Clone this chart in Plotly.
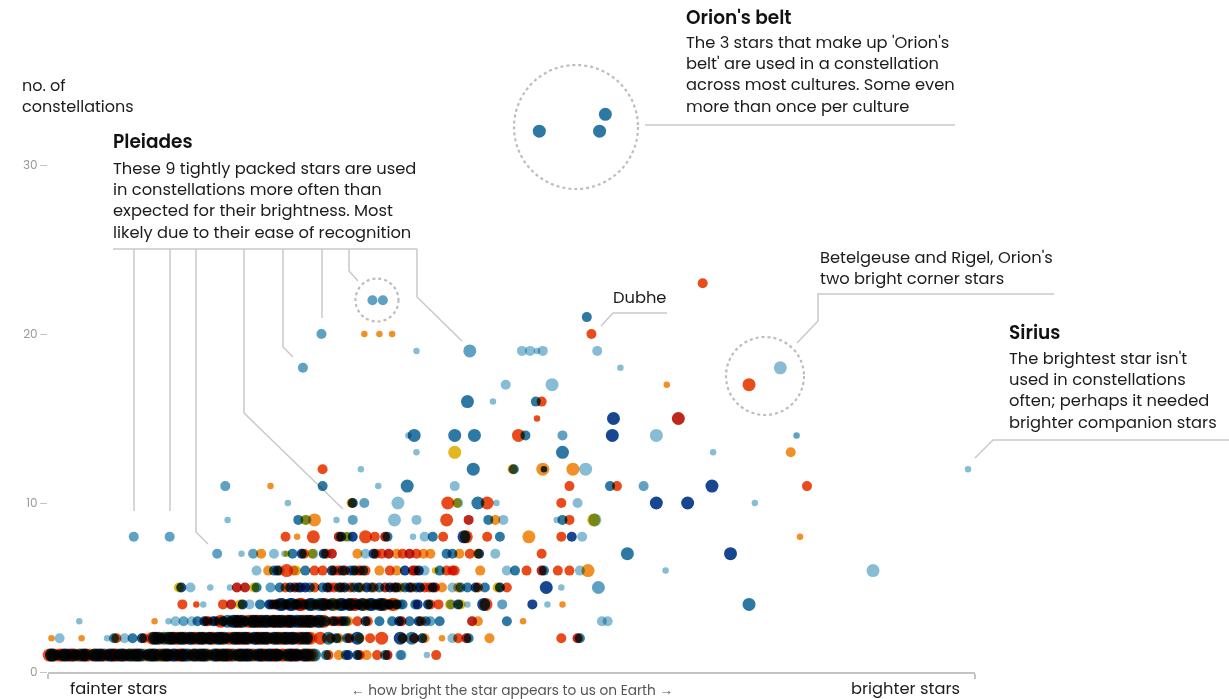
import plotly.graph_objects as go

# ---------------------------------------------------------------------------
# Stars: (apparent magnitude, colour class, size class), grouped by the
# number of constellations each star is used in.
# ---------------------------------------------------------------------------
ROW_01 = [(6.49, 'r', 3), (6.46, 'b', 3), (6.42, 'nv', 2), (6.38, 'o', 3), (6.34, 'b', 3), (6.29, 'r', 3),
          (6.26, 'nv', 2), (6.21, 'mb', 3), (6.17, 'dr', 3), (6.12, 'b', 2), (6.08, 'r', 3), (6.04, 'nv', 3),
          (5.99, 'o', 2), (5.95, 'b', 3), (5.91, 'r', 3), (5.86, 'nv', 3), (5.82, 'b', 2), (5.78, 'o', 3),
          (5.74, 'r', 3), (5.70, 'b', 3), (5.65, 'nv', 2), (5.61, 'r', 3), (5.57, 'b', 3), (5.52, 'o', 3),
          (5.48, 'nv', 3), (5.44, 'r', 2), (5.40, 'b', 3), (5.35, 'dr', 3), (5.31, 'mb', 3), (5.27, 'o', 2),
          (5.23, 'nv', 3), (5.18, 'r', 3), (5.14, 'b', 3), (5.10, 'r', 2), (5.05, 'nv', 3), (5.01, 'o', 3),
          (4.97, 'b', 3), (4.93, 'r', 3), (4.88, 'mb', 2), (4.84, 'nv', 3), (4.80, 'r', 3), (4.76, 'b', 3),
          (4.71, 'o', 2), (4.67, 'nv', 3), (4.63, 'r', 3), (4.58, 'b', 3), (4.54, 'dr', 3), (4.50, 'b', 2),
          (4.46, 'o', 3), (4.41, 'nv', 3), (4.37, 'r', 3), (4.33, 'b', 2), (4.28, 'nv', 3), (4.24, 'r', 3),
          (4.20, 'b', 3),
          (6.47, 'nv', 3), (6.44, 'o', 3), (6.40, 'r', 3), (6.36, 'nv', 3), (6.31, 'dr', 3), (6.27, 'b', 3),
          (6.23, 'r', 3), (6.19, 'nv', 3), (6.14, 'o', 3), (6.10, 'nv', 3), (6.06, 'b', 3), (6.01, 'r', 3),
          (5.97, 'nv', 3), (5.93, 'dr', 3), (5.88, 'b', 3), (5.84, 'r', 3), (5.80, 'nv', 3), (5.76, 'b', 3),
          (5.72, 'nv', 3), (5.67, 'o', 3), (5.63, 'b', 3), (5.59, 'nv', 3), (5.54, 'r', 3), (5.50, 'b', 3),
          (5.46, 'dr', 3), (5.42, 'nv', 3), (5.37, 'r', 3), (5.33, 'nv', 3), (5.29, 'b', 3), (5.25, 'r', 3),
          (5.20, 'b', 3), (5.16, 'nv', 3), (5.12, 'o', 3), (5.07, 'b', 3), (5.03, 'r', 3), (4.99, 'nv', 3),
          (4.95, 'dr', 3), (4.90, 'b', 3), (4.86, 'r', 3), (4.82, 'b', 3), (4.78, 'nv', 3), (4.73, 'r', 3),
          (4.69, 'b', 3), (4.65, 'dr', 3), (4.60, 'nv', 3), (4.56, 'r', 3), (4.52, 'nv', 3), (4.48, 'r', 3),
          (4.43, 'b', 3), (4.39, 'dr', 3), (4.35, 'nv', 3), (4.30, 'r', 3), (4.26, 'b', 3), (4.22, 'o', 3),
          (4.10, 'b', 2), (4.08, 'r', 2), (3.99, 'o', 2), (3.93, 'b', 2), (3.91, 'nv', 2),
          (3.83, 'nv', 2), (3.81, 'r', 2), (3.75, 'o', 2), (3.66, 'r', 2), (3.59, 'b', 2), (3.57, 'dr', 2),
          (3.46, 'lb', 2), (3.45, 'mb', 2), (3.23, 'lb', 1), (3.15, 'r', 2)]

ROW_02 = [(6.47, 'o', 1), (6.40, 'lb', 2), (6.21, 'o', 1), (5.99, 'lb', 1), (5.93, 'b', 2), (5.91, 'r', 2),
          (5.84, 'lb', 2), (5.77, 'b', 2), (5.69, 'nv', 2), (5.67, 'r', 2),
          (5.60, 'r', 3), (5.56, 'b', 3), (5.52, 'nv', 2), (5.47, 'o', 3), (5.43, 'b', 3), (5.38, 'r', 3),
          (5.34, 'nv', 3), (5.30, 'o', 2), (5.26, 'b', 3), (5.21, 'r', 3), (5.17, 'nv', 3), (5.13, 'mb', 2),
          (5.09, 'dr', 3), (5.04, 'b', 3), (5.00, 'r', 3), (4.96, 'nv', 2), (4.91, 'o', 3), (4.87, 'b', 3),
          (4.83, 'r', 3), (4.79, 'nv', 3), (4.74, 'o', 2), (4.70, 'b', 3), (4.66, 'r', 3), (4.62, 'nv', 3),
          (4.57, 'b', 2), (4.53, 'r', 3), (4.49, 'o', 3), (4.45, 'nv', 3), (4.40, 'dr', 3), (4.36, 'b', 2),
          (4.32, 'r', 3), (4.27, 'nv', 3), (4.23, 'o', 3),
          (5.58, 'nv', 3), (5.54, 'r', 3), (5.50, 'b', 3), (5.45, 'nv', 3), (5.41, 'dr', 3), (5.36, 'b', 3),
          (5.32, 'r', 3), (5.28, 'nv', 3), (5.24, 'r', 3), (5.19, 'b', 3), (5.15, 'r', 3), (5.11, 'nv', 3),
          (5.07, 'o', 3), (5.02, 'nv', 3), (4.98, 'b', 3), (4.94, 'r', 3), (4.89, 'nv', 3), (4.85, 'dr', 3),
          (4.81, 'b', 3), (4.77, 'r', 3), (4.72, 'nv', 3), (4.68, 'dr', 3), (4.64, 'b', 3), (4.60, 'r', 3),
          (4.55, 'nv', 3), (4.51, 'b', 3), (4.47, 'r', 3), (4.43, 'b', 3), (4.38, 'nv', 3), (4.34, 'r', 3),
          (4.30, 'b', 3), (4.25, 'r', 3),
          (4.15, 'r', 3), (4.08, 'b', 3), (4.06, 'r', 2), (4.01, 'nv', 2), (3.99, 'o', 2), (3.92, 'b', 2),
          (3.90, 'dr', 2), (3.83, 'nv', 3), (3.81, 'o', 2), (3.72, 'r', 2), (3.62, 'r', 3), (3.46, 'nv', 3),
          (3.44, 'r', 2), (3.36, 'b', 3), (3.34, 'dr', 2), (3.27, 'nv', 2), (3.25, 'o', 2), (3.10, 'o', 1),
          (3.01, 'lb', 2), (2.96, 'r', 2), (2.89, 'dr', 2), (2.87, 'b', 2), (2.69, 'o', 2), (2.07, 'r', 2),
          (1.93, 'dr', 2), (1.91, 'b', 2)]

ROW_03 = [(6.23, 'lb', 1), (5.58, 'o', 1), (5.46, 'lb', 1), (5.40, 'lb', 2), (5.33, 'mb', 2), (5.26, 'lb', 2),
          (5.21, 'b', 2), (5.15, 'nv', 2), (5.12, 'r', 2), (5.08, 'b', 2), (5.03, 'o', 2), (4.99, 'nv', 2),
          (4.93, 'r', 2), (4.88, 'b', 3), (4.84, 'r', 3), (4.80, 'nv', 2), (4.75, 'o', 3), (4.71, 'b', 3),
          (4.67, 'r', 3), (4.62, 'nv', 3), (4.58, 'mb', 2), (4.54, 'dr', 3), (4.50, 'b', 3), (4.45, 'o', 3),
          (4.41, 'nv', 3), (4.37, 'r', 2), (4.32, 'b', 3), (4.28, 'r', 3), (4.24, 'nv', 3), (4.19, 'o', 2),
          (4.15, 'b', 3), (4.12, 'r', 3),
          (5.13, 'r', 2), (5.06, 'nv', 2), (5.01, 'r', 3), (4.95, 'b', 3), (4.90, 'nv', 3), (4.86, 'dr', 3),
          (4.82, 'b', 3), (4.77, 'r', 3), (4.73, 'nv', 3), (4.69, 'r', 3), (4.65, 'b', 3), (4.60, 'r', 3),
          (4.56, 'nv', 3), (4.52, 'r', 3), (4.48, 'nv', 3), (4.43, 'dr', 3), (4.39, 'b', 3), (4.35, 'nv', 3),
          (4.30, 'r', 3), (4.26, 'b', 3), (4.22, 'r', 3), (4.17, 'nv', 3), (4.10, 'b', 2), (4.05, 'r', 2),
          (3.97, 'dr', 2), (3.95, 'b', 2),
          (4.03, 'nv', 2), (4.00, 'r', 2), (3.93, 'b', 2), (3.91, 'o', 2),
          (3.83, 'r', 2), (3.76, 'nv', 2), (3.74, 'r', 2), (3.64, 'b', 2), (3.53, 'b', 2), (3.47, 'nv', 2),
          (3.45, 'dr', 2), (3.38, 'b', 2), (3.30, 'nv', 2), (3.28, 'r', 2), (3.24, 'b', 2), (3.20, 'mb', 2),
          (3.12, 'b', 2), (2.84, 'dr', 2), (2.79, 'o', 2), (2.54, 'b', 2), (2.40, 'o', 1), (1.72, 'lb', 2),
          (1.67, 'lb', 2)]

ROW_04 = [(5.34, 'r', 2), (5.22, 'r', 1), (5.16, 'lb', 1), (4.99, 'r', 2), (4.92, 'dr', 2), (4.84, 'y', 2),
          (4.82, 'nv', 2), (4.76, 'lb', 2), (4.67, 'b', 2), (4.59, 'nv', 2), (4.55, 'r', 2), (4.50, 'b', 3),
          (4.46, 'o', 2), (4.41, 'nv', 3), (4.37, 'r', 2), (4.33, 'dr', 3), (4.29, 'b', 2), (4.24, 'nv', 3),
          (4.20, 'o', 2), (4.16, 'b', 3), (4.11, 'r', 3), (4.07, 'nv', 2), (4.03, 'o', 3), (3.98, 'b', 3),
          (3.94, 'r', 2), (3.90, 'nv', 3), (3.85, 'dr', 3), (3.81, 'b', 2), (3.77, 'o', 3), (3.72, 'nv', 3),
          (3.68, 'r', 2), (3.64, 'b', 3), (3.60, 'r', 3), (3.55, 'nv', 2), (3.51, 'o', 3),
          (4.57, 'b', 2), (4.53, 'dr', 2), (4.48, 'nv', 3), (4.44, 'r', 2), (4.39, 'b', 3), (4.35, 'nv', 2),
          (4.31, 'r', 3), (4.26, 'o', 2), (4.22, 'b', 3), (4.18, 'r', 2), (4.13, 'nv', 3), (4.09, 'dr', 2),
          (4.05, 'b', 3), (4.01, 'r', 2), (3.96, 'nv', 3), (3.92, 'b', 2), (3.88, 'r', 3), (3.83, 'b', 2),
          (3.79, 'nv', 3), (3.75, 'r', 2), (3.70, 'b', 3), (3.66, 'dr', 2), (3.62, 'nv', 3), (3.57, 'b', 2),
          (3.53, 'r', 3), (3.49, 'nv', 2),
          (3.46, 'lb', 2), (3.44, 'b', 2), (3.33, 'b', 2), (3.31, 'nv', 2), (3.22, 'nv', 2), (3.20, 'r', 2),
          (3.13, 'r', 2), (3.03, 'y', 2), (3.02, 'lb', 2), (2.96, 'nv', 2), (2.94, 'y', 2), (2.88, 'lb', 1),
          (2.74, 'nv', 3), (2.72, 'r', 3), (2.58, 'mb', 2), (2.32, 'nv', 2), (2.19, 'lb', 1), (2.06, 'o', 1),
          (0.45, 'b', 3)]

ROW_05 = [(5.37, 'y', 2), (5.35, 'nv', 2), (5.27, 'lb', 2), (5.10, 'lb', 1), (4.93, 'lb', 1), (4.87, 'dr', 2),
          (4.80, 'dr', 2), (4.72, 'y', 2), (4.70, 'b', 2), (4.58, 'mb', 2), (4.50, 'b', 2), (4.41, 'nv', 2),
          (4.34, 'b', 2), (4.32, 'nv', 2), (4.24, 'b', 2), (4.09, 'nv', 2), (4.07, 'r', 2), (3.99, 'b', 2),
          (3.97, 'dr', 2), (3.89, 'r', 2), (3.82, 'nv', 2), (3.80, 'o', 2), (3.71, 'b', 2), (3.69, 'r', 2),
          (3.59, 'dr', 2), (3.51, 'dr', 2), (3.49, 'nv', 2), (3.46, 'o', 2), (3.38, 'nv', 2), (3.36, 'r', 2),
          (3.32, 'b', 2), (3.25, 'r', 2), (3.18, 'nv', 2), (3.16, 'dr', 2), (3.10, 'o', 2), (3.01, 'lb', 2),
          (2.96, 'o', 2), (2.94, 'b', 2), (2.88, 'b', 2), (2.81, 'nv', 2), (2.79, 'r', 2), (2.73, 'b', 2),
          (2.62, 'y', 2), (2.60, 'nv', 2), (2.54, 'r', 2), (2.20, 'nv', 3), (2.07, 'lb', 1), (1.75, 'mb', 3),
          (4.45, 'r', 2), (4.37, 'dr', 2), (4.28, 'nv', 2), (4.20, 'r', 2), (4.13, 'b', 2), (4.03, 'r', 2),
          (3.94, 'nv', 2), (3.86, 'b', 2), (3.75, 'nv', 2), (3.64, 'b', 2), (3.55, 'nv', 2), (3.42, 'b', 2),
          (3.29, 'nv', 2), (3.21, 'r', 2)]

ROW_06 = [(4.70, 'lb', 2), (4.60, 'o', 2), (4.55, 'b', 2), (4.52, 'nv', 2), (4.50, 'o', 2), (4.44, 'r', 3),
          (4.38, 'o', 2), (4.36, 'y', 2), (4.28, 'b', 2), (4.20, 'r', 2), (4.13, 'r', 2), (4.05, 'nv', 2),
          (4.03, 'r', 2), (3.96, 'b', 2), (3.94, 'dr', 2), (3.86, 'nv', 2), (3.84, 'o', 2), (3.78, 'b', 2),
          (3.76, 'r', 2), (3.64, 'o', 2), (3.55, 'r', 2), (3.49, 'o', 2), (3.42, 'nv', 2), (3.35, 'dr', 2),
          (3.30, 'nv', 2), (3.25, 'lb', 2), (3.16, 'y', 1), (3.12, 'b', 2), (3.06, 'r', 2), (3.01, 'r', 2),
          (2.99, 'r', 2), (2.77, 'o', 2), (2.54, 'lb', 2), (2.47, 'b', 2), (2.37, 'r', 2), (2.24, 'dr', 2),
          (2.22, 'b', 2), (2.10, 'r', 2), (2.00, 'r', 2), (1.91, 'lb', 2), (1.84, 'o', 3), (1.17, 'lb', 1),
          (-0.62, 'lb', 3), (3.99, 'r', 2), (3.89, 'b', 2), (3.81, 'dr', 2), (3.33, 'r', 2)]

ROW_07 = [(5.04, 'mb', 2), (4.83, 'lb', 1), (4.73, 'mb', 2), (4.66, 'o', 2), (4.55, 'lb', 2), (4.46, 'lb', 1),
          (4.44, 'y', 1), (4.39, 'b', 2), (4.31, 'nv', 2), (4.29, 'r', 2), (4.22, 'y', 2), (4.21, 'lb', 2),
          (4.12, 'nv', 2), (4.10, 'r', 2), (4.05, 'dr', 2), (3.83, 'o', 2), (3.76, 'lb', 2), (3.69, 'nv', 2),
          (3.67, 'r', 2), (3.62, 'r', 2), (3.56, 'dr', 2), (3.49, 'o', 2), (3.44, 'r', 2), (3.38, 'dr', 2),
          (3.32, 'r', 2), (3.26, 'o', 2), (3.20, 'o', 2), (3.06, 'b', 2), (3.01, 'b', 2), (2.95, 'o', 2),
          (2.86, 'r', 2), (2.79, 'o', 2), (2.78, 'nv', 2), (2.64, 'lb', 2), (2.24, 'r', 2), (1.50, 'b', 3),
          (0.61, 'nv', 3)]

ROW_08 = [(5.76, 'mb', 2), (5.45, 'mb', 2), (4.45, 'r', 2), (4.35, 'o', 1), (4.21, 'r', 3), (3.99, 'dr', 2),
          (3.97, 'nv', 2), (3.93, 'y', 2), (3.91, 'lb', 2), (3.87, 'nv', 2), (3.76, 'r', 3), (3.68, 'r', 2),
          (3.59, 'dr', 2), (3.57, 'b', 2), (3.35, 'lb', 1), (3.25, 'lb', 2), (3.18, 'b', 2), (3.09, 'r', 2),
          (2.91, 'nv', 3), (2.89, 'r', 3), (2.71, 'r', 2), (2.60, 'b', 2), (2.35, 'o', 3), (2.07, 'r', 2),
          (1.98, 'nv', 2), (1.89, 'lb', 2), (0.01, 'o', 1)]

ROW_09 = [(4.95, 'lb', 1), (4.34, 'b', 2), (4.28, 'y', 2), (4.27, 'lb', 2), (4.20, 'o', 3), (4.01, 'lb', 1),
          (3.87, 'mb', 2), (3.51, 'lb', 3), (3.32, 'lb', 2), (3.06, 'r', 3), (2.87, 'dr', 2), (2.70, 'b', 2),
          (2.64, 'o', 2), (2.57, 'lb', 2), (2.11, 'lb', 1), (2.06, 'b', 2), (2.00, 'r', 2), (1.79, 'y', 3),
          (1.78, 'lb', 3)]

ROW_10 = [(4.43, 'lb', 1), (3.88, 'o', 2), (3.87, 'nv', 2), (3.77, 'mb', 2), (3.48, 'lb', 3), (3.05, 'r', 3),
          (2.97, 'y', 2), (2.96, 'lb', 2), (2.79, 'b', 3), (2.71, 'r', 3), (2.63, 'lb', 1), (2.07, 'r', 2),
          (1.93, 'lb', 2), (1.25, 'nv', 3), (0.98, 'nv', 3), (0.40, 'lb', 1)]

ROW_11 = [(4.97, 'mb', 2), (4.58, 'o', 1), (4.13, 'b', 2), (3.65, 'lb', 1), (3.40, 'b', 3), (2.99, 'lb', 2),
          (2.00, 'r', 2), (1.65, 'b', 2), (1.59, 'r', 2), (1.36, 'mb', 2), (0.77, 'nv', 3), (-0.05, 'r', 2)]

ROW_12 = [(4.13, 'r', 2), (3.80, 'lb', 1), (2.83, 'b', 3), (2.49, 'o', 2), (2.48, 'b', 2), (2.23, 'o', 3),
          (2.22, 'nv', 1), (1.97, 'o', 3), (1.86, 'lb', 3), (-1.44, 'lb', 1)]

ROW_13 = [(3.32, 'lb', 1), (2.99, 'y', 3), (2.06, 'b', 3), (0.76, 'lb', 1), (0.09, 'o', 2)]

ROW_14 = [(3.39, 'lb', 1), (3.34, 'b', 3), (2.99, 'b', 3), (2.82, 'b', 3), (2.44, 'r', 3), (2.38, 'b', 2),
          (2.06, 'mb', 2), (1.63, 'nv', 3), (1.25, 'lb', 3), (0.04, 'mb', 1)]

ROW_15 = [(2.28, 'r', 1), (1.62, 'nv', 3), (1.06, 'dr', 3)]
ROW_16 = [(2.88, 'b', 3), (2.66, 'lb', 1), (2.29, 'b', 2), (2.24, 'r', 2)]
ROW_17 = [(2.55, 'lb', 2), (2.15, 'lb', 3), (1.16, 'o', 1), (0.45, 'r', 3)]
ROW_18 = [(4.30, 'mb', 2), (1.56, 'lb', 1), (0.18, 'lb', 3)]
ROW_19 = [(3.32, 'lb', 1), (2.86, 'mb', 3), (2.41, 'lb', 2), (2.34, 'lb', 2), (2.28, 'lb', 1), (2.23, 'lb', 2),
          (1.76, 'lb', 2)]
ROW_20 = [(4.14, 'mb', 2), (3.77, 'o', 1), (3.64, 'o', 1), (3.53, 'o', 1), (1.81, 'r', 2)]
ROW_21 = [(1.85, 'b', 2)]
ROW_22 = [(3.70, 'mb', 2), (3.61, 'mb', 2)]
ROW_23 = [(0.85, 'r', 2)]
ROW_32 = [(2.26, 'b', 3), (1.74, 'b', 3)]
ROW_33 = [(1.69, 'b', 3)]

ROWS = {1: ROW_01, 2: ROW_02, 3: ROW_03, 4: ROW_04, 5: ROW_05, 6: ROW_06, 7: ROW_07, 8: ROW_08,
        9: ROW_09, 10: ROW_10, 11: ROW_11, 12: ROW_12, 13: ROW_13, 14: ROW_14, 15: ROW_15,
        16: ROW_16, 17: ROW_17, 18: ROW_18, 19: ROW_19, 20: ROW_20, 21: ROW_21, 22: ROW_22,
        23: ROW_23, 32: ROW_32, 33: ROW_33}

Y_TICKS = [0, 10, 20, 30]
X_RANGE = [6.5, -1.5]

PALETTE = {
    'lb': '#80bad3', 'mb': '#559cbf', 'b': '#22729f', 'nv': '#0b3d8c',
    'o': '#f28a1c', 'r': '#e8420f', 'dr': '#bb1b0e', 'y': '#e2b312',
}
DIAMETER = {1: 6.5, 2: 10, 3: 13}

FONT = "Poppins, 'Open Sans', sans-serif"
INK = '#1c1c1c'
RULE = '#c9c9c9'
BODY = 16.3

# ---------------------------------------------------------------------------
W, H = 1229, 699
ML, MR, MT, MB = 48, 254, 80, 27
PW, PH = W - ML - MR, H - MT - MB
PX_PER_COUNT = 16.9
Y_RANGE = [0, PH / PX_PER_COUNT]


def fx(x):
    """page pixel -> paper x"""
    return (x - ML) / PW


def fy(y):
    """page pixel -> paper y"""
    return (H - MB - y) / PH


mags, counts, colors, sizes = [], [], [], []
for count, stars in ROWS.items():
    for mag, col, size in stars:
        mags.append(mag)
        counts.append(count)
        colors.append(PALETTE[col])
        sizes.append(DIAMETER[size])

fig = go.Figure()
fig.add_trace(go.Scatter(
    x=mags, y=counts, mode='markers', cliponaxis=False, hoverinfo='skip',
    marker=dict(color=colors, size=sizes, opacity=0.95, line=dict(width=0)),
))

shapes = []


def polyline(points):
    d = 'M ' + ' L '.join(f'{fx(a):.5f},{fy(b):.5f}' for a, b in points)
    shapes.append(dict(type='path', path=d, xref='paper', yref='paper',
                       line=dict(color=RULE, width=1.5), layer='below'))


def ring(cx, cy, r):
    shapes.append(dict(type='circle', xref='paper', yref='paper',
                       x0=fx(cx - r), x1=fx(cx + r), y0=fy(cy + r), y1=fy(cy - r),
                       line=dict(color='#bdbdbd', width=2.2, dash='dot'), layer='below'))


# dotted rings round the highlighted groups
ring(576, 127, 62)    # Orion's belt
ring(377, 300, 21.5)  # Pleiades pair
ring(765, 376, 39)    # Betelgeuse and Rigel

# Pleiades leader lines
polyline([(113, 249), (417, 249)])
polyline([(134, 249), (134, 511)])
polyline([(170, 249), (170, 511)])
polyline([(196, 249), (196, 532), (208, 544)])
polyline([(244, 249), (244, 413), (343, 509)])
polyline([(283, 249), (283, 347), (293, 357)])
polyline([(322, 249), (322, 318)])
polyline([(349, 249), (349, 271), (358, 281)])
polyline([(417, 249), (417, 297), (462, 341)])
# Orion's belt
polyline([(645, 125), (955, 125)])
# Dubhe
polyline([(601, 326), (613, 313), (667, 313)])
# Betelgeuse and Rigel
polyline([(797, 343), (818, 321), (818, 294), (1054, 294)])
# Sirius
polyline([(975, 458), (993, 440), (1229, 440)])

annotations = []


def text(x, y, lines, size=BODY, color=INK, anchor='left', weight=400):
    if isinstance(lines, str):
        lines = [lines]
    annotations.append(dict(x=fx(x), y=fy(y), xref='paper', yref='paper', text='<br>'.join(lines),
                            showarrow=False, xanchor=anchor, yanchor='middle', align=anchor,
                            borderpad=0, font=dict(family=FONT, size=size, color=color, weight=weight)))


def title(x, y, s):
    text(x, y, s, size=18.5, color='#111', weight=600)


text(21, 96, ['no. of', 'constellations'], size=16)

title(112, 141, 'Pleiades')
text(112, 200, ['These 9 tightly packed stars are used',
                'in constellations more often than',
                'expected for their brightness. Most',
                'likely due to their ease of recognition'])

title(685, 17, "Orion's belt")
text(685, 75, ["The 3 stars that make up 'Orion's",
               "belt' are used in a constellation",
               "across most cultures. Some even",
               "more than once per culture"])

text(612, 297, 'Dubhe')
text(819, 268, ["Betelgeuse and Rigel, Orion's", "two bright corner stars"])

title(1008, 332, 'Sirius')
text(1008, 390, ["The brightest star isn't",
                 "used in constellations",
                 "often; perhaps it needed",
                 "brighter companion stars"])

text(69, 688, 'fainter stars')
text(961, 688, 'brighter stars', anchor='right')
text(512, 690, '← how bright the star appears to us on Earth →', size=13.7, color='#555',
     anchor='center')

fig.update_layout(
    width=W, height=H, autosize=False,
    margin=dict(l=ML, r=MR, t=MT, b=MB, pad=0),
    paper_bgcolor='white', plot_bgcolor='white',
    showlegend=False, shapes=shapes, annotations=annotations,
    font=dict(family=FONT, color=INK),
    xaxis=dict(range=X_RANGE, showgrid=False, zeroline=False, showline=True,
               linecolor='#c4c4c4', linewidth=1.5, tickvals=X_RANGE, ticktext=['', ''],
               ticks='outside', ticklen=5, tickcolor='#c4c4c4', tickwidth=1.5, fixedrange=True),
    yaxis=dict(range=Y_RANGE, showgrid=False, zeroline=False, showline=False,
               tickvals=Y_TICKS, ticks='outside', ticklen=7, tickcolor='#c4c4c4', tickwidth=1,
               tickfont=dict(family=FONT, size=12, color='#9a9a9a'), fixedrange=True),
)

BLEND = ("var s=document.createElement('style');"
         "s.textContent='.scatterlayer path.point{mix-blend-mode:multiply}';"
         "document.head.appendChild(s);")

fig.write_html("out.html", post_script=BLEND, config={'displayModeBar': False})
